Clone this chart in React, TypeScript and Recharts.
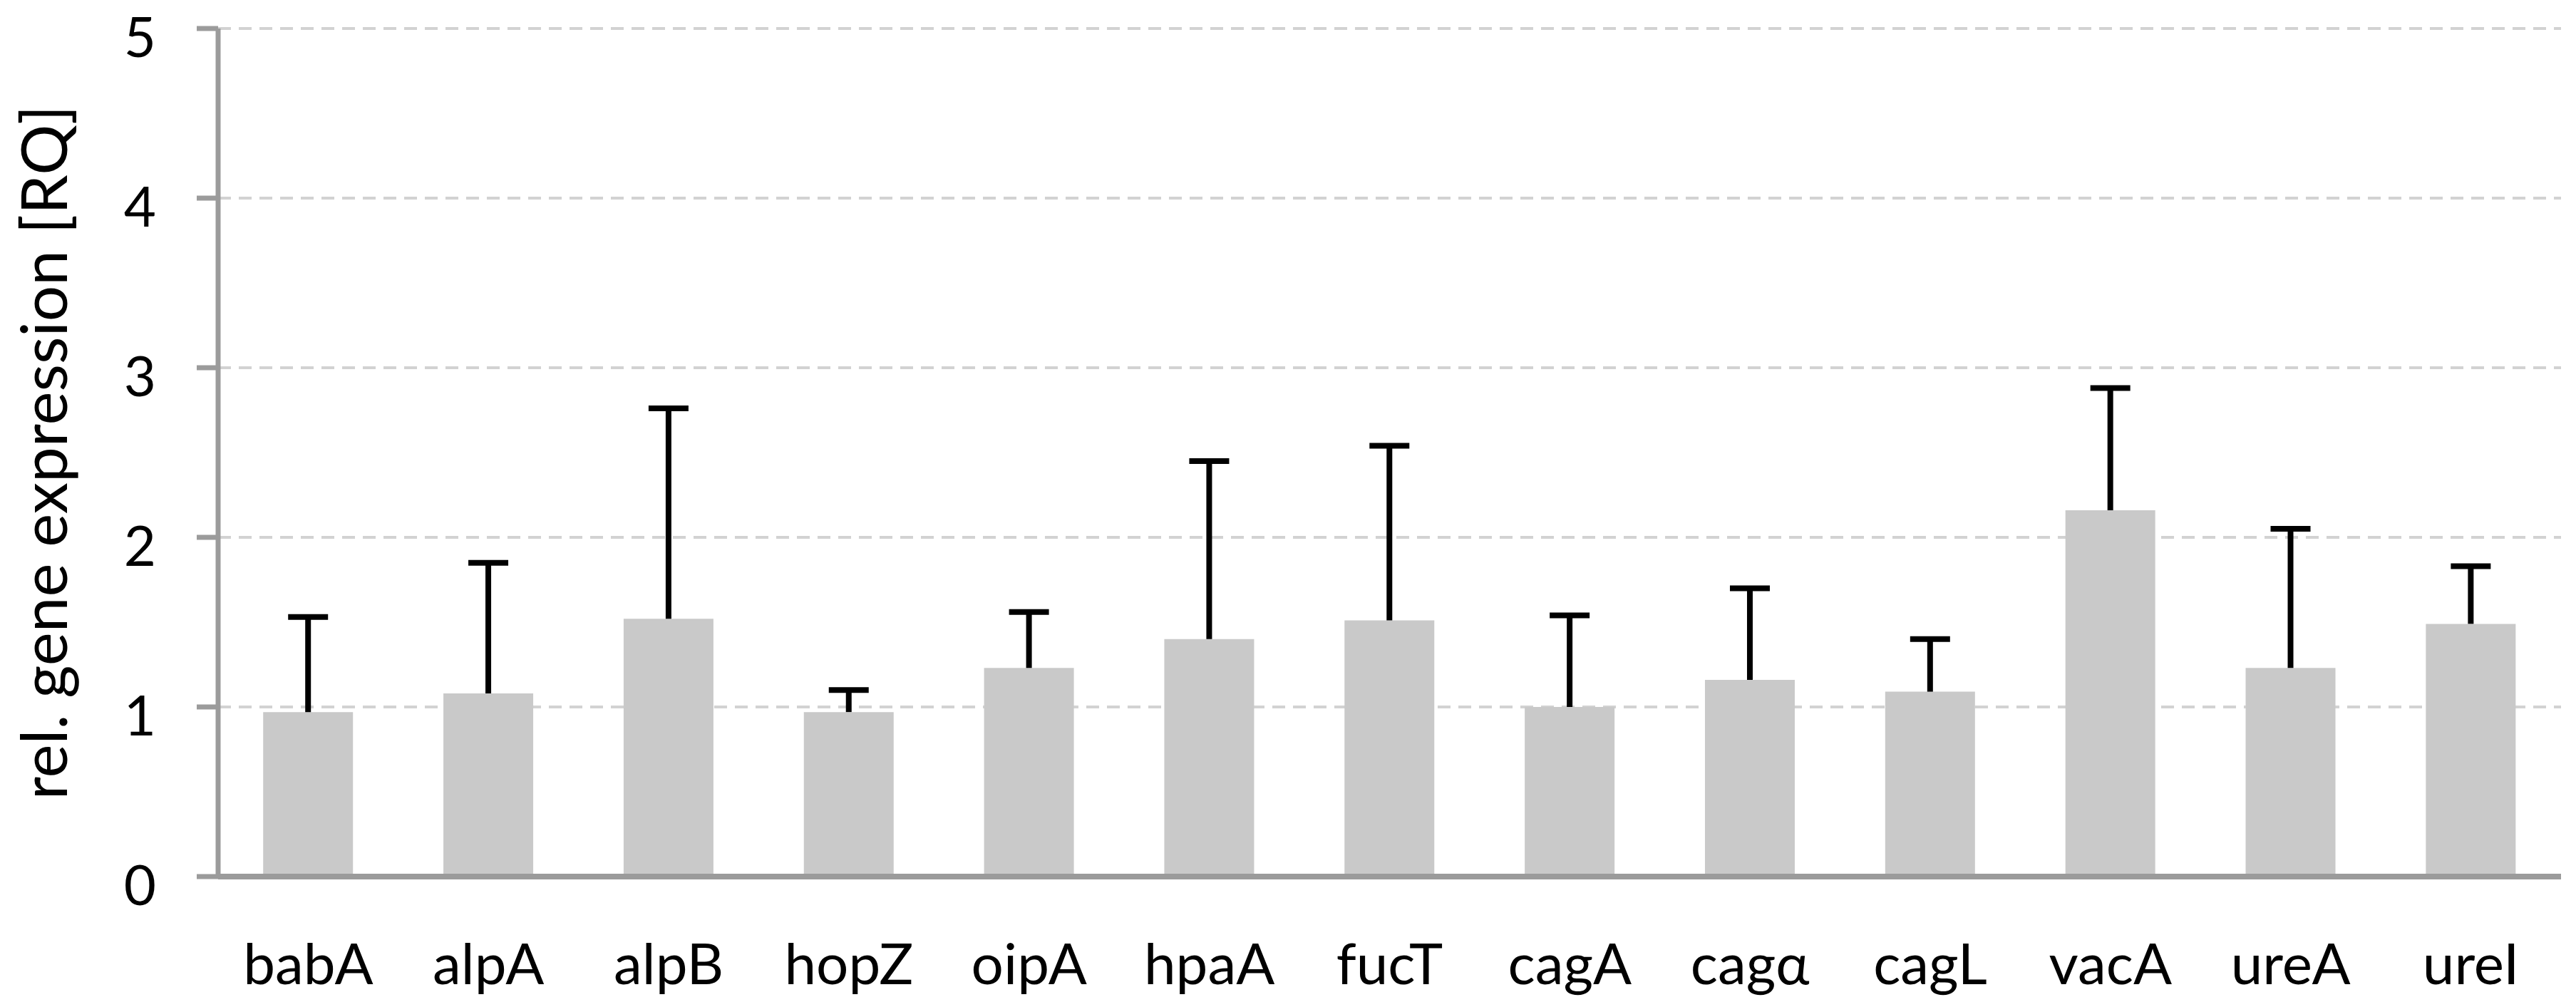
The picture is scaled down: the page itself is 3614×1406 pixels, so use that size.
import { Bar, BarChart, CartesianGrid, XAxis, YAxis } from 'recharts';

const genes = ['babA', 'alpA', 'alpB', 'hopZ', 'oipA', 'hpaA', 'fucT', 'cagA', 'cagα', 'cagL', 'vacA', 'ureA', 'ureI'];
const rq = [0.97, 1.08, 1.52, 0.97, 1.23, 1.4, 1.51, 1.0, 1.16, 1.09, 2.16, 1.23, 1.49];
const rqError = [0.56, 0.77, 1.24, 0.13, 0.33, 1.05, 1.03, 0.54, 0.54, 0.31, 0.72, 0.82, 0.34];
const yTicks = [0, 1, 2, 3, 4, 5];

const FONT = 'Lato, "Open Sans", sans-serif';
const AXIS_GREY = '#9b9b9b';

// 上误差线：叠在柱子上方的透明段，只画竖线和顶端横帽
function ErrorCap(props: any) {
  const { x, y, width, height } = props;
  if (!height) return null;
  const cx = x + width / 2;
  return (
    <g>
      <line x1={cx} x2={cx} y1={y + height} y2={y} stroke="#000" strokeWidth={8} />
      <line x1={cx - 28} x2={cx + 28} y1={y} y2={y} stroke="#000" strokeWidth={8} />
    </g>
  );
}

function YTick({ x, y, payload }: any) {
  return (
    <text x={x} y={y} dy={40} textAnchor="end" fontSize={78} fontFamily={FONT} fill="#000">
      {payload.value}
    </text>
  );
}

function YLabel({ viewBox }: any) {
  const cx = 94;
  const cy = viewBox.y + viewBox.height / 2;
  return (
    <text
      x={cx}
      y={cy}
      transform={`rotate(-90, ${cx}, ${cy})`}
      textAnchor="middle"
      fontSize={89}
      fontFamily={FONT}
      fill="#000"
    >
      rel. gene expression [RQ]
    </text>
  );
}

export default function App() {
  const data = genes.map((g, i) => ({ gene: g, value: rq[i], err: rqError[i] }));

  return (
    <div style={{ position: 'fixed', left: 0, top: 0, background: '#fff' }}>
      <BarChart
        width={3614}
        height={1406}
        data={data}
        margin={{ top: 40, right: 21, left: 0, bottom: 0 }}
        barCategoryGap="25%"
      >
        <CartesianGrid
          vertical={false}
          stroke="#d2d2d2"
          strokeWidth={4}
          strokeDasharray="18 11"
        />
        <XAxis
          dataKey="gene"
          height={176}
          interval={0}
          tickLine={false}
          tickSize={0}
          tickMargin={94}
          axisLine={{ stroke: AXIS_GREY, strokeWidth: 8 }}
          tick={{ fontSize: 80, fill: '#000', fontFamily: FONT }}
        />
        <YAxis
          width={306}
          domain={[0, 5]}
          ticks={yTicks}
          interval={0}
          tickSize={30}
          tickMargin={57}
          axisLine={{ stroke: AXIS_GREY, strokeWidth: 7 }}
          tickLine={{ stroke: AXIS_GREY, strokeWidth: 7 }}
          tick={<YTick />}
          label={<YLabel />}
        />
        <Bar dataKey="value" stackId="a" fill="#c9c9c9" isAnimationActive={false} />
        <Bar dataKey="err" stackId="a" shape={<ErrorCap />} isAnimationActive={false} />
      </BarChart>
    </div>
  );
}
